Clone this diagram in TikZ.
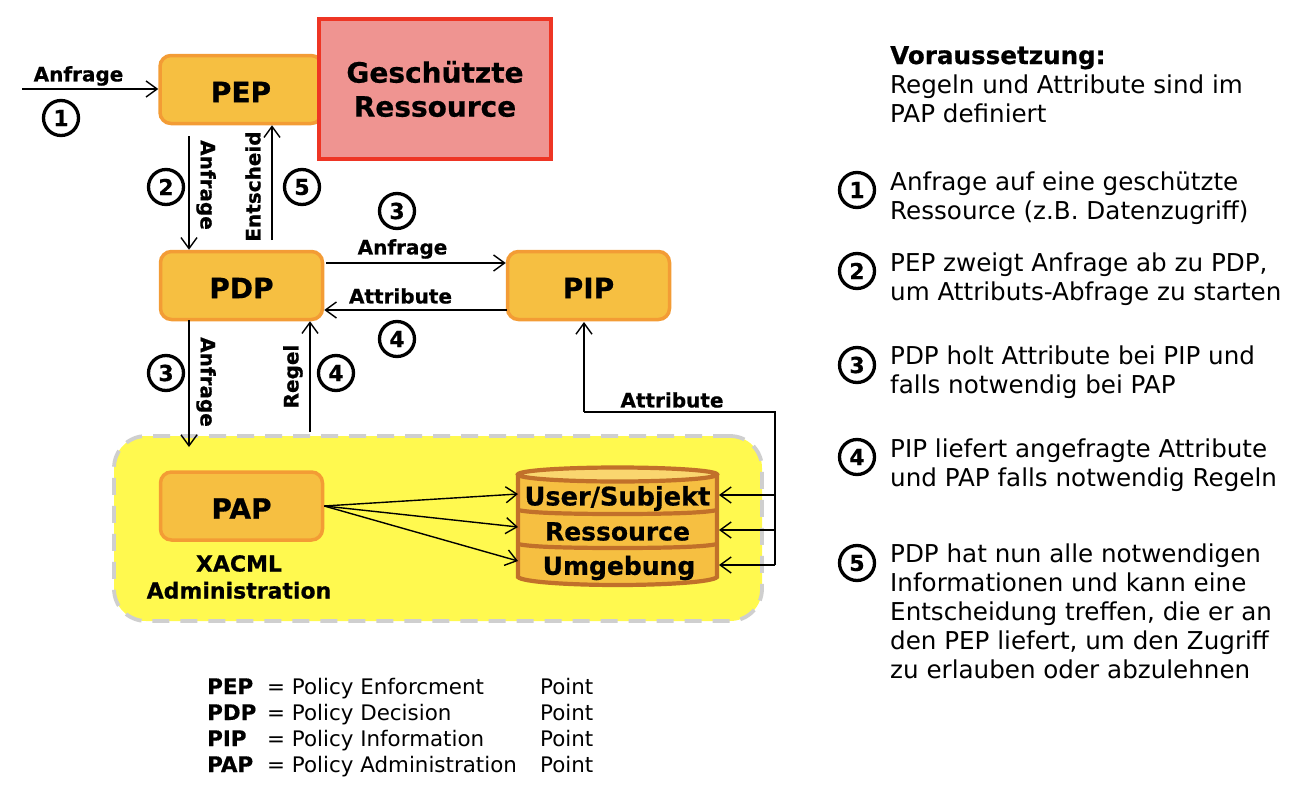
\documentclass[tikz,border=0pt]{standalone}
\usepackage{fontspec}
\setmainfont[BoldFeatures={FakeBold=0.6}]{DejaVu Sans}
\usetikzlibrary{arrows.meta,shapes.geometric}
\definecolor{boxfill}{HTML}{F6BF41}
\definecolor{boxline}{HTML}{F39C35}
\definecolor{resfill}{HTML}{EF9491}
\definecolor{resline}{HTML}{EE3524}
\definecolor{admfill}{HTML}{FFF94F}
\definecolor{admline}{HTML}{CFCFCF}
\definecolor{cylline}{HTML}{C1702A}
\definecolor{cyltop}{HTML}{FAD66F}
\newcommand{\boxlabel}[1]{\raisebox{-2.5pt}[\height][0pt]{#1}}
\tikzset{
  x=1pt,y=-1pt,
  box/.style={draw=boxline,fill=boxfill,line width=3.5pt,rounded corners=11pt,minimum width=162pt,minimum height=68pt,inner sep=0pt,font=\fontsize{28}{30}\selectfont\bfseries},
  arr/.style={draw=black,line width=1.4pt,-{Straight Barb[length=11pt,width=16pt,line width=1.4pt]}},
  plain/.style={draw=black,line width=1.4pt},
  num/.style={circle,draw=black,line width=3.3pt,fill=white,minimum size=35pt,inner sep=0pt,font=\fontsize{22}{24}\selectfont\bfseries},
  lab/.style={inner sep=0pt,font=\fontsize{20}{23}\selectfont\bfseries},
  txt/.style={inner sep=0pt,anchor=base west,align=left,font=\fontsize{24.6}{29}\selectfont},
  leg/.style={inner sep=0pt,anchor=base west,font=\fontsize{21.4}{26}\selectfont},
  cyl/.style={inner sep=0pt,font=\fontsize{25}{27}\selectfont\bfseries},
}
\begin{document}
\begin{tikzpicture}
\useasboundingbox (0,0) rectangle (1307,787);
% administration area
\node[draw=admline,fill=admfill,line width=3.8pt,dash pattern=on 17pt off 11pt,rounded corners=32pt,minimum width=648pt,minimum height=185pt,inner sep=0pt] (adm) at (438,528.5) {};
% main boxes
\node[box] (pep) at (241,89.5) {\boxlabel{PEP}};
\node[draw=resline,fill=resfill,line width=3.5pt,minimum width=232pt,minimum height=140pt,inner sep=0pt,align=center,font=\fontsize{28}{34}\selectfont\bfseries] (res) at (435,89) {Geschützte\\Ressource};
\node[box] (pdp) at (241.5,285.5) {\boxlabel{PDP}};
\node[box] (pip) at (588.5,285.5) {\boxlabel{PIP}};
\node[box] (pap) at (241.5,506) {\boxlabel{PAP}};
\node[lab,align=center,font=\fontsize{22}{27}\selectfont\bfseries] (xacml) at (239,577) {XACML\\Administration};
% database
\draw[draw=cylline,fill=boxfill,line width=4.2pt] (518,475) -- (518,577) .. controls (522,582) and (570,585) .. (617.5,585) .. controls (665,585) and (713,582) .. (717,577) -- (717,475) -- cycle;
\draw[draw=cylline,line width=4.2pt] (518,510) .. controls (530,513) and (570,514) .. (617.5,514) .. controls (665,514) and (705,513) .. (717,510);
\draw[draw=cylline,line width=4.2pt] (518,544) .. controls (530,547) and (570,548) .. (617.5,548) .. controls (665,548) and (705,547) .. (717,544);
\node[draw=cylline,fill=cyltop,line width=4.2pt,ellipse,minimum width=199pt,minimum height=14pt,inner sep=0pt] (dbtop) at (617.5,474.5) {};
\node[cyl,font=\fontsize{25.6}{27}\selectfont\bfseries] (user) at (617.5,498.5) {User/Subjekt};
\node[cyl] (ress) at (617.5,531.5) {Ressource};
\node[cyl] (umg) at (619,568) {Umgebung};
% free ends
\coordinate (start) at (22,89);
\coordinate (a2) at (189,136);
\coordinate (a5) at (272,240);
\coordinate (a3) at (189,320);
\coordinate (a4) at (310,432);
\coordinate (p1) at (326,263);
\coordinate (p2) at (507,310);
\coordinate (pip1) at (584,322);
\coordinate (c1) at (775,412);
\coordinate (c2) at (775,495);
\coordinate (c3) at (775,530);
\coordinate (c4) at (775,565);
\coordinate (db1) at (518,494);
\coordinate (db2) at (518,527);
\coordinate (db3) at (518,561);
\coordinate (dbr1) at (719,495);
\coordinate (dbr2) at (719,530);
\coordinate (dbr3) at (719,565);
\coordinate (adm3) at (189,447);
% connectors
\draw[arr] (start) -- (start -| pep.west);
\draw[arr] (a2) -- (a2 |- pdp.north);
\draw[arr] (a5) -- (a5 |- pep.south);
\draw[arr] (a3) -- (adm3);
\draw[arr] (a4) -- (a4 |- pdp.south);
\draw[arr] (p1) -- (p1 -| pip.west);
\draw[arr] (p2) -- (p2 -| pdp.east);
\draw[arr] (pap.east) -- (db1);
\draw[arr] (pap.east) -- (db2);
\draw[arr] (pap.east) -- (db3);
\draw[plain] (c4) -- (c1) -- (c1 -| pip1);
\draw[arr] (c1 -| pip1) -- (pip1);
\draw[arr] (c2) -- (dbr1);
\draw[arr] (c3) -- (dbr2);
\draw[arr] (c4) -- (dbr3);
% connector labels
\node[lab] (l1) at (78.5,76) {Anfrage};
\node[lab,rotate=-90] (l2) at (206,185) {Anfrage};
\node[lab,rotate=90] (l5) at (253,186.5) {Entscheid};
\node[lab] (l3) at (402.5,249) {Anfrage};
\node[lab] (l4) at (400.5,296) {Attribute};
\node[lab,rotate=-90] (l6) at (206,382) {Anfrage};
\node[lab,rotate=90] (l7) at (293,376.5) {Regel};
\node[lab] (l8) at (672,400) {Attribute};
% numbers
\node[num] (n1) at (61,118) {1};
\node[num] (n2) at (166,187) {2};
\node[num] (n5) at (302,187) {5};
\node[num] (n3a) at (397,211) {3};
\node[num] (n4a) at (397,339) {4};
\node[num] (n3b) at (166,373) {3};
\node[num] (n4b) at (336,373) {4};
\node[num] (k1) at (857,190) {1};
\node[num] (k2) at (857,271) {2};
\node[num] (k3) at (857,365) {3};
\node[num] (k4) at (857,457) {4};
\node[num] (k5) at (857,563) {5};
% right column
\node[txt] (t0) at (890,122) {\textbf{Voraussetzung:}\\Regeln und Attribute sind im\\PAP definiert};
\node[txt] (t1) at (890,219) {Anfrage auf eine geschützte\\Ressource (z.B. Datenzugriff)};
\node[txt] (t2) at (890,300) {PEP zweigt Anfrage ab zu PDP,\\um Attributs-Abfrage zu starten};
\node[txt] (t3) at (890,393) {PDP holt Attribute bei PIP und\\falls notwendig bei PAP};
\node[txt] (t4) at (890,486) {PIP liefert angefragte Attribute\\und PAP falls notwendig Regeln};
\node[txt] (t5) at (890,678) {PDP hat nun alle notwendigen\\Informationen und kann eine\\Entscheidung treffen, die er an\\den PEP liefert, um den Zugriff\\zu erlauben oder abzulehnen};
% legend
\node[leg] (a1) at (207,694) {\textbf{PEP}};
\node[leg] (a2t) at (207,720) {\textbf{PDP}};
\node[leg] (a3t) at (207,746) {\textbf{PIP}};
\node[leg] (a4t) at (207,772) {\textbf{PAP}};
\node[leg] (b1) at (267,694) {= Policy Enforcment};
\node[leg] (b2) at (267,720) {= Policy Decision};
\node[leg] (b3) at (267,746) {= Policy Information};
\node[leg] (b4) at (267,772) {= Policy Administration};
\node[leg] (d1) at (540,694) {Point};
\node[leg] (d2) at (540,720) {Point};
\node[leg] (d3) at (540,746) {Point};
\node[leg] (d4) at (540,772) {Point};
\end{tikzpicture}
\end{document}
